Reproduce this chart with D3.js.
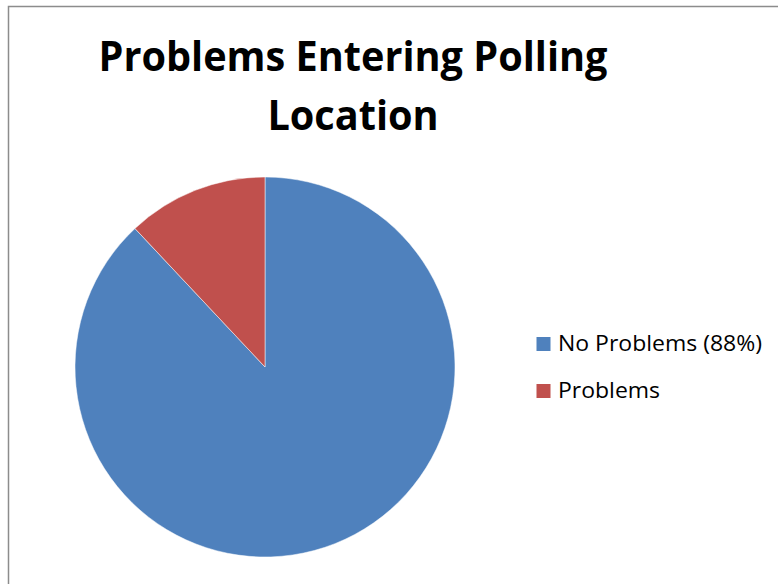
<!DOCTYPE html>
<html>
<head>
<meta charset="utf-8">
<script src="https://cdn.jsdelivr.net/npm/d3@7"></script>
<style>
  html, body { margin: 0; padding: 0; background: #fff; }
  svg { display: block; }
  text { font-variant-ligatures: none; font-feature-settings: "liga" 0; }
</style>
</head>
<body>
<svg id="chart" width="778" height="584"></svg>
<script>
// Survey result: share of voters with and without problems entering the polling location
const categories = ["No Problems (88%)", "Problems"];
const values = [88, 12];
const colors = ["#4F81BD", "#C0504D"];
const titleLines = ["Problems Entering Polling", "Location"];

const svg = d3.select("#chart");
const font = "'Open Sans', Lato, sans-serif";

// chart frame
svg.append("rect")
  .attr("x", 8.5).attr("y", 6.5)
  .attr("width", 800).attr("height", 600)
  .attr("fill", "#fff")
  .attr("stroke", "#8c8c8c")
  .attr("stroke-width", 1.5);

// fit a group of texts by a common factor so the first one spans `target` px
function stretch(sel, target) {
  const nodes = sel.nodes();
  const k = target / nodes[0].getComputedTextLength();
  nodes.forEach(n => {
    n.setAttribute("textLength", n.getComputedTextLength() * k);
    n.setAttribute("lengthAdjust", "spacingAndGlyphs");
  });
}

// title
const titleText = svg.append("g").selectAll("text").data(titleLines).join("text")
  .attr("text-anchor", "middle")
  .attr("font-family", font)
  .attr("font-weight", "bold")
  .attr("font-size", 42)
  .attr("fill", "#000")
  .attr("x", 353)
  .attr("y", (d, i) => 71 + i * 58.5)
  .text(d => d);
stretch(titleText, 509);

// pie
const cx = 265, cy = 367, r = 190;
const pie = d3.pie().sort(null).value(d => d.value);
const arc = d3.arc().innerRadius(0).outerRadius(r);
const data = categories.map((c, i) => ({ name: c, value: values[i], color: colors[i] }));

svg.append("g")
  .attr("transform", `translate(${cx},${cy})`)
  .selectAll("path")
  .data(pie(data))
  .join("path")
  .attr("d", arc)
  .attr("fill", d => d.data.color)
  .attr("stroke", "#fff")
  .attr("stroke-width", 0.5);

// legend
const legend = svg.append("g").attr("transform", "translate(536.5,337)");
const item = legend.selectAll("g").data(data).join("g")
  .attr("transform", (d, i) => `translate(0,${i * 47})`);
item.append("rect")
  .attr("width", 14).attr("height", 14)
  .attr("fill", d => d.color);
const legendText = item.append("text")
  .attr("x", 21.5).attr("y", 14)
  .attr("font-family", font)
  .attr("font-size", 21.5)
  .attr("fill", "#000")
  .text(d => d.name);
stretch(legendText, 204);
</script>
</body>
</html>
